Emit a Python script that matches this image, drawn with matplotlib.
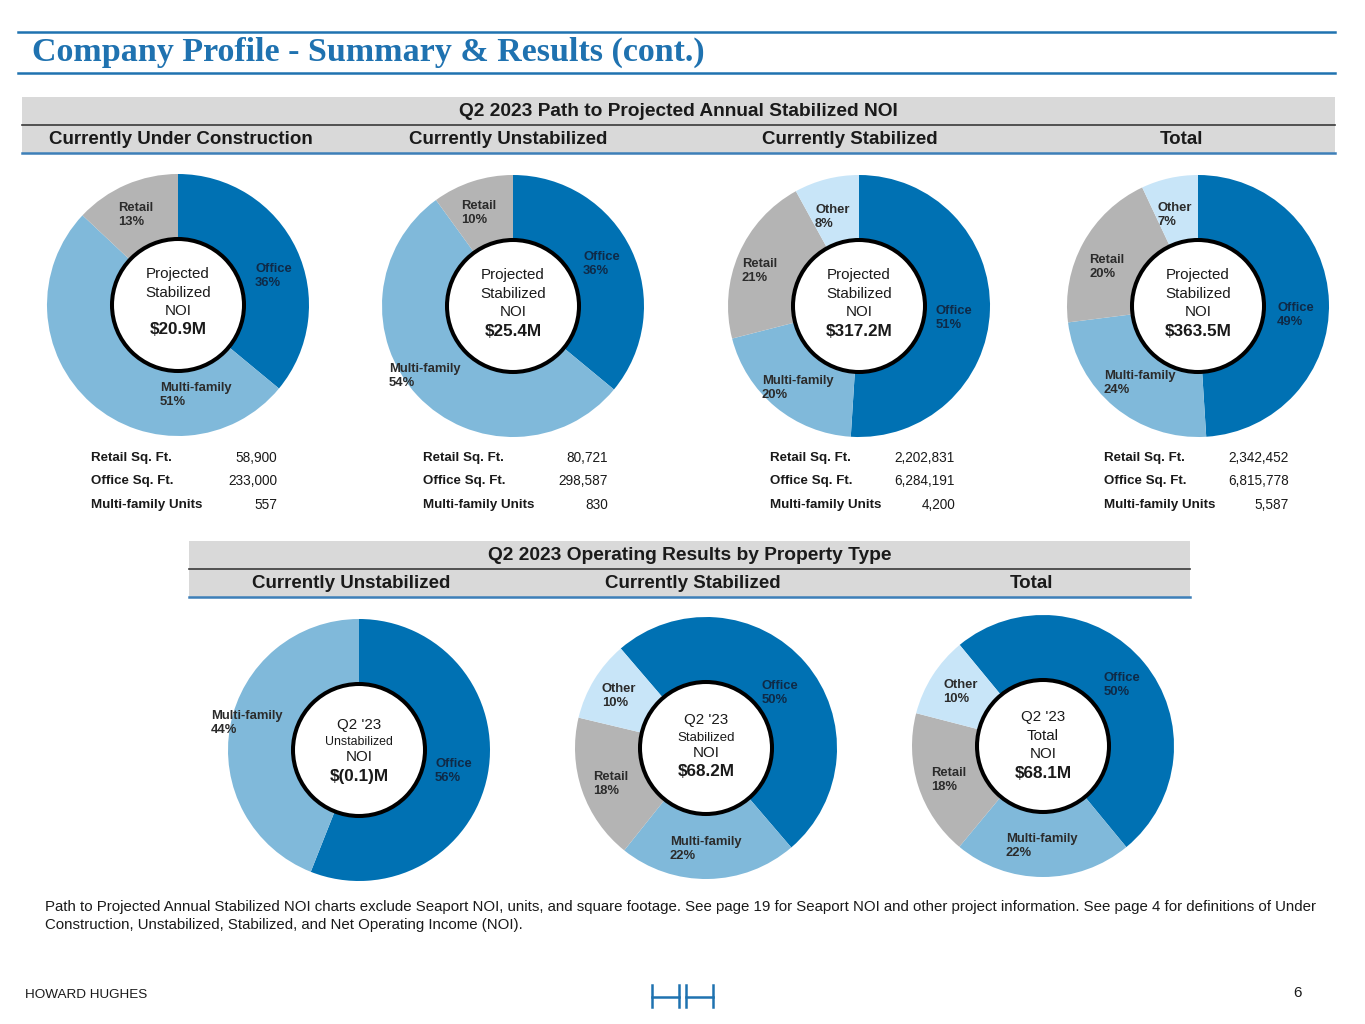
import matplotlib
matplotlib.use("Agg")
import matplotlib.pyplot as plt
from matplotlib.patches import Rectangle, Circle

plt.rcParams['font.family'] = ['Liberation Sans', 'DejaVu Sans']

# ---- data ----
categories = ['Office', 'Multi-family', 'Retail', 'Other']
slice_colors = ['#0071b3', '#80b9da', '#b4b4b4', '#c8e5f8']

top_titles = ['Currently Under Construction', 'Currently Unstabilized',
              'Currently Stabilized', 'Total']
top_shares = [[36, 51, 13, 0],
              [36, 54, 10, 0],
              [51, 20, 21, 8],
              [49, 24, 20, 7]]
top_noi = ['$20.9M', '$25.4M', '$317.2M', '$363.5M']

retail_sqft = [58900, 80721, 2202831, 2342452]
office_sqft = [233000, 298587, 6284191, 6815778]
mf_units = [557, 830, 4200, 5587]
table_rows = ['Retail Sq. Ft.', 'Office Sq. Ft.', 'Multi-family Units']

bottom_titles = ['Currently Unstabilized', 'Currently Stabilized', 'Total']
bottom_shares = [[56, 44, 0, 0],
                 [50, 22, 18, 10],
                 [50, 22, 18, 10]]
bottom_kind = ['Unstabilized', 'Stabilized', 'Total']
bottom_noi = ['$(0.1)M', '$68.2M', '$68.1M']

# ---- layout (pixels) ----
W, H = 1365, 1024
R = 131
top_centers = [(178, 305), (513, 306), (859, 306), (1198, 306)]
bottom_centers = [(359, 750), (706, 748), (1043, 746)]
top_start = [90, 90, 90, 90]
bottom_start = [90, 130.6, 129.5]

# label offsets from donut centre (px, y up), per chart, per category
top_label_pos = [
    [(77, 29), (-18, -90), (-60, 90), None],
    [(70, 42), (-124, -70), (-52, 93), None],
    [(77, -12), (-97, -82), (-117, 35), (-44, 89)],
    [(79, -9), (-94, -77), (-109, 39), (-41, 91)],
]
bottom_label_pos = [
    [(76, -21), (-148, 27), None, None],
    [(56, 55), (-36, -101), (-113, -36), (-104, 52)],
    [(61, 61), (-37, -100), (-112, -34), (-100, 54)],
]

BLUE = '#1f72b0'

fig = plt.figure(figsize=(W / 100, H / 100), dpi=100)
base = fig.add_axes([0, 0, 1, 1])
base.set_xlim(0, W)
base.set_ylim(H, 0)
base.axis('off')

# title block
base.plot([18, 1335], [32, 32], color=BLUE, lw=1.8)
base.plot([18, 1335], [73, 73], color=BLUE, lw=1.8)
base.text(32, 52, 'Company Profile - Summary & Results (cont.)',
          family='Liberation Serif', fontweight='bold', fontsize=24.5,
          color=BLUE, va='center', ha='left')


def header_band(x0, x1, y0, title, subtitles, sub_x):
    base.add_patch(Rectangle((x0, y0), x1 - x0, 56, facecolor='#d9d9d9',
                             edgecolor='none', zorder=0))
    base.plot([x0, x1], [y0 + 28, y0 + 28], color='#3a3a3a', lw=1.2)
    base.plot([x0, x1], [y0 + 56, y0 + 56], color='#3d7fb8', lw=1.8)
    base.text((x0 + x1) / 2, y0 + 14, title, fontsize=13.8,
              fontweight='bold', color='#1a1a1a', ha='center', va='center')
    for s, x in zip(subtitles, sub_x):
        base.text(x, y0 + 43, s, fontsize=13.5, fontweight='bold',
                  color='#1a1a1a', ha='center', va='center')


header_band(22, 1335, 97, 'Q2 2023 Path to Projected Annual Stabilized NOI',
            top_titles, [181, 508, 850, 1181])
header_band(189, 1190, 541, 'Q2 2023 Operating Results by Property Type',
            bottom_titles, [351, 693, 1031])


def donut(center, shares, start, label_pos, lines):
    cx, cy = center
    s = 1.25 * R
    ax = fig.add_axes([(cx - s) / W, 1 - (cy + s) / H, 2 * s / W, 2 * s / H])
    vals = [v for v in shares if v > 0]
    cols = [c for v, c in zip(shares, slice_colors) if v > 0]
    ax.pie(vals, colors=cols, startangle=start, counterclock=False,
           radius=1, wedgeprops=dict(linewidth=0))
    ax.set_xlim(-1.25, 1.25)
    ax.set_ylim(-1.25, 1.25)
    ax.set_aspect('equal')
    ax.add_patch(Circle((0, 0), 66 / R, facecolor='white', edgecolor='black',
                        lw=2.9, zorder=3))
    for cat, v, pos in zip(categories, shares, label_pos):
        if v <= 0 or pos is None:
            continue
        col = '#0f2a47' if cat == 'Office' else '#2b2b2b'
        ax.text(pos[0] / R, pos[1] / R, '%s\n%d%%' % (cat, v), fontsize=9.4,
                fontweight='bold', color=col, ha='left', va='center',
                zorder=4, clip_on=False)
    for txt, dy, size, weight in lines:
        ax.text(0, -dy / R, txt, fontsize=size, fontweight=weight,
                color='#1a1a1a', ha='center', va='center', zorder=4)
    return ax


for i in range(4):
    lines = [('Projected', -31, 10.9, 'normal'),
             ('Stabilized', -12, 10.9, 'normal'),
             ('NOI', 6, 10.9, 'normal'),
             (top_noi[i], 25, 12.3, 'bold')]
    donut(top_centers[i], top_shares[i], top_start[i], top_label_pos[i], lines)

    # small table below the donut
    lx = [91, 423, 770, 1104][i]
    rx = [277, 608, 955, 1289][i]
    vals = [retail_sqft[i], office_sqft[i], mf_units[i]]
    for row, v, y in zip(table_rows, vals, [458, 481, 505]):
        base.text(lx, y, row, fontsize=9.6, fontweight='bold', color='#1a1a1a',
                  ha='left', va='center')
        base.text(rx, y, '{:,}'.format(v), fontsize=9.8, color='#1a1a1a',
                  ha='right', va='center')

bottom_offsets = [[-25, -8, 7, 27], [-28, -10, 5, 24], [-29, -10, 8, 27]]
kind_sizes = [8.9, 9.5, 10.9]
for i in range(3):
    off = bottom_offsets[i]
    lines = [("Q2 '23", off[0], 10.9, 'normal'),
             (bottom_kind[i], off[1], kind_sizes[i], 'normal'),
             ('NOI', off[2], 10.9, 'normal'),
             (bottom_noi[i], off[3], 12.3, 'bold')]
    donut(bottom_centers[i], bottom_shares[i], bottom_start[i],
          bottom_label_pos[i], lines)

# footnote
base.text(45, 907, 'Path to Projected Annual Stabilized NOI charts exclude '
          'Seaport NOI, units, and square footage. See page 19 for Seaport '
          'NOI and other project information. See page 4 for definitions '
          'of Under', fontsize=10.8, color='#1a1a1a', ha='left', va='center')
base.text(45, 925, 'Construction, Unstabilized, Stabilized, and Net '
          'Operating Income (NOI).', fontsize=10.8, color='#1a1a1a',
          ha='left', va='center')

# footer
base.text(25, 995, 'HOWARD HUGHES', fontsize=9.7, color='#1a1a1a',
          ha='left', va='center')
base.text(1298, 993, '6', fontsize=11, color='#1a1a1a',
          ha='center', va='center')
for x0, x1 in [(652, 679), (686, 713)]:
    base.plot([x0, x0], [985, 1007], color=BLUE, lw=1.8)
    base.plot([x1, x1], [985, 1007], color=BLUE, lw=1.8)
    base.plot([x0, x1], [997, 997], color=BLUE, lw=1.8)

fig.savefig('out.png', dpi=100)
